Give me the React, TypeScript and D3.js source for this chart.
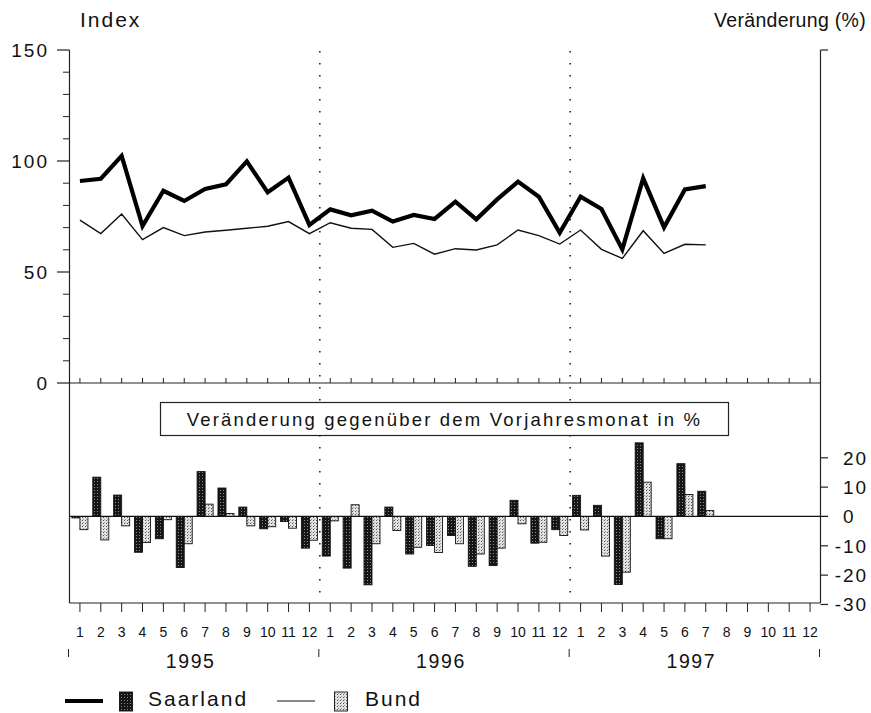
import React from "react";
import * as d3 from "d3";

const years = ["1995", "1996", "1997"];
const monthLabels = ["1", "2", "3", "4", "5", "6", "7", "8", "9", "10", "11", "12"];

// Index values (Jan 1995 .. Jul 1997)
const saarIndex = [91, 92, 102.3, 70.7, 86.6, 82, 87.4, 89.5, 99.8, 85.9, 92.5, 71.2,
  78.2, 75.5, 77.6, 72.7, 75.7, 73.9, 81.7, 73.7, 82.7, 90.7, 83.9, 67.7,
  83.9, 78.4, 60.2, 92.2, 70.1, 87.2, 88.7];
const bundIndex = [73.4, 67.3, 76.1, 64.6, 70, 66.4, 68, 68.8, 69.7, 70.6, 72.7, 67.3,
  72.2, 69.7, 69.2, 61.1, 62.9, 58, 60.5, 59.9, 62.2, 68.9, 66.4, 62.6,
  68.9, 60.2, 56.1, 68.6, 58.4, 62.5, 62.2];

// Change vs. same month of previous year (%)
const saarChange = [-0.5, 13.4, 7.3, -12.2, -7.6, -17.4, 15.3, 9.7, 3.2, -4.2, -1.7, -10.8,
  -13.5, -17.6, -23.3, 3.2, -12.8, -9.9, -6.5, -17, -16.7, 5.5, -9.1, -4.5,
  7.2, 3.8, -23.2, 25.1, -7.6, 18, 8.6];
const bundChange = [-4.5, -8, -3.2, -8.9, -1.1, -9.3, 4.2, 1.0, -3.2, -3.5, -4, -8.1,
  -1.5, 4.0, -9.3, -4.8, -10.5, -12.3, -9.3, -12.8, -10.8, -2.5, -8.8, -6.5,
  -4.6, -13.5, -19, 11.7, -7.6, 7.5, 2.0];

const leftTicks = [0, 50, 100, 150];
const rightTicks = [20, 10, 0, -10, -20, -30];

const FONT = "'Liberation Sans', Arial, Helvetica, sans-serif";

export default function App() {
  const W = 871, H = 713;
  const xL = 69.5, xR = 820.5;
  const nMonths = years.length * 12;
  const x = d3.scaleBand<number>().domain(d3.range(nMonths)).range([xL, xR]);
  const cx = (i: number) => (x(i) as number) + x.bandwidth() / 2;
  const yTop = d3.scaleLinear().domain([0, 150]).range([383, 50]);
  const yBot = d3.scaleLinear().domain([-29.5, 45.5]).range([603, 383]);

  const line = d3.line<number>().x((_, i) => cx(i)).y((d) => yTop(d));
  const minorTicks = d3.range(10, 150, 10).filter((v) => v % 50 !== 0);
  const boundaries = d3.range(years.length + 1).map((k) => xL + k * 12 * x.step());
  const bw = 8;

  return (
    <svg width={W} height={H} style={{ position: "absolute", left: 0, top: 0, background: "#fff" }}
      fontFamily={FONT}>
      <defs>
        <pattern id="pDark" width="3" height="3" patternUnits="userSpaceOnUse">
          <rect width="3" height="3" fill="#161616" />
          <rect x="1" y="1" width="1" height="1" fill="#8a8a8a" />
        </pattern>
        <pattern id="pLight" width="3" height="3" patternUnits="userSpaceOnUse">
          <rect width="3" height="3" fill="#e2e2e2" />
          <rect x="1" y="1" width="1" height="1" fill="#555" />
          <rect x="2" y="0" width="1" height="1" fill="#999" />
        </pattern>
      </defs>
      <rect width={W} height={H} fill="#fff" />

      {/* titles */}
      <text x={80} y={27} fontSize={21} letterSpacing={2} fill="#111">Index</text>
      <text x={866} y={27} fontSize={19.5} letterSpacing={0.3} textAnchor="end" fill="#111">Veränderung (%)</text>

      {/* year dotted separators */}
      {boundaries.slice(1, -1).map((bx, k) => (
        <line key={"d" + k} x1={bx} x2={bx} y1={51} y2={603} stroke="#222" strokeWidth={1.6}
          strokeDasharray="1.4 10.6" />
      ))}

      {/* left axis */}
      <line x1={xL} x2={xL} y1={50} y2={603} stroke="#222" strokeWidth={1.2} />
      {leftTicks.map((v) => (
        <g key={"lt" + v}>
          <line x1={57} x2={xL} y1={yTop(v)} y2={yTop(v)} stroke="#222" strokeWidth={1.2} />
          <text x={49} y={yTop(v) + 7} fontSize={19} letterSpacing={2} textAnchor="end" fill="#111">{v}</text>
        </g>
      ))}
      {minorTicks.map((v) => (
        <line key={"mt" + v} x1={63} x2={xL} y1={yTop(v)} y2={yTop(v)} stroke="#222" strokeWidth={1} />
      ))}

      {/* right axis */}
      <line x1={xR} x2={xR} y1={50} y2={603} stroke="#222" strokeWidth={1.2} />
      <line x1={xR} x2={828} y1={50} y2={50} stroke="#222" strokeWidth={1.2} />
      {rightTicks.map((v) => (
        <g key={"rt" + v}>
          {v !== 0 && <line x1={xR} x2={828} y1={yBot(v)} y2={yBot(v)} stroke="#222" strokeWidth={1.2} />}
          {v < 0 && (
            <text x={841} y={yBot(v) + 7} fontSize={19} textAnchor="end" fill="#111">-</text>
          )}
          <text x={843} y={yBot(v) + 7} fontSize={19} letterSpacing={2} fill="#111">{Math.abs(v)}</text>
        </g>
      ))}

      {/* separator line between panels */}
      <line x1={xL} x2={xR} y1={383} y2={383} stroke="#222" strokeWidth={1.2} />
      {d3.range(nMonths).map((i) => (
        <line key={"st" + i} x1={cx(i)} x2={cx(i)} y1={383} y2={378} stroke="#222" strokeWidth={1} />
      ))}

      {/* bottom axis */}
      <line x1={xL} x2={xR} y1={603} y2={603} stroke="#222" strokeWidth={1.2} />
      {d3.range(nMonths).map((i) => (
        <g key={"bt" + i}>
          <line x1={cx(i)} x2={cx(i)} y1={603} y2={612} stroke="#222" strokeWidth={1} />
          <text x={cx(i)} y={637} fontSize={14} textAnchor="middle" fill="#111">{monthLabels[i % 12]}</text>
        </g>
      ))}
      {boundaries.map((bx, k) => (
        <line key={"yb" + k} x1={bx - 1} x2={bx - 1} y1={649} y2={657} stroke="#222" strokeWidth={1} />
      ))}
      {years.map((yr, k) => (
        <text key={yr} x={(boundaries[k] + boundaries[k + 1]) / 2 - 4} y={668} fontSize={19.5}
          letterSpacing={1.6} textAnchor="middle" fill="#111">{yr}</text>
      ))}

      {/* label box */}
      <rect x={160.5} y={402.5} width={568} height={33} fill="#fff" stroke="#222" strokeWidth={1.2} />
      <text x={444.5} y={426} fontSize={18.5} letterSpacing={2.2} textAnchor="middle" fill="#111">
        Veränderung gegenüber dem Vorjahresmonat in %
      </text>

      {/* bars */}
      {saarChange.map((v, i) => (
        <rect key={"sb" + i} x={cx(i) - bw} width={bw} y={Math.min(yBot(v), yBot(0))}
          height={Math.abs(yBot(v) - yBot(0))} fill="url(#pDark)" stroke="#111" strokeWidth={0.9} />
      ))}
      {bundChange.map((v, i) => (
        <rect key={"bb" + i} x={cx(i)} width={bw} y={Math.min(yBot(v), yBot(0))}
          height={Math.abs(yBot(v) - yBot(0))} fill="url(#pLight)" stroke="#111" strokeWidth={0.9} />
      ))}
      <line x1={xL} x2={828} y1={yBot(0)} y2={yBot(0)} stroke="#111" strokeWidth={1.3} />

      {/* index lines */}
      <path d={line(bundIndex) || ""} fill="none" stroke="#111" strokeWidth={1.4} strokeLinejoin="miter" />
      <path d={line(saarIndex) || ""} fill="none" stroke="#000" strokeWidth={4.2} strokeLinejoin="miter"
        strokeMiterlimit={6} />

      {/* legend */}
      <line x1={65} x2={103} y1={701} y2={701} stroke="#000" strokeWidth={4} />
      <rect x={119.5} y={692} width={13} height={19} fill="url(#pDark)" stroke="#111" strokeWidth={0.9} />
      <text x={148} y={706} fontSize={21} letterSpacing={2} fill="#111">Saarland</text>
      <line x1={277} x2={315} y1={701} y2={701} stroke="#111" strokeWidth={1.2} />
      <rect x={334.5} y={692} width={13} height={19} fill="url(#pLight)" stroke="#111" strokeWidth={0.9} />
      <text x={365} y={706} fontSize={21} letterSpacing={2} fill="#111">Bund</text>
    </svg>
  );
}
